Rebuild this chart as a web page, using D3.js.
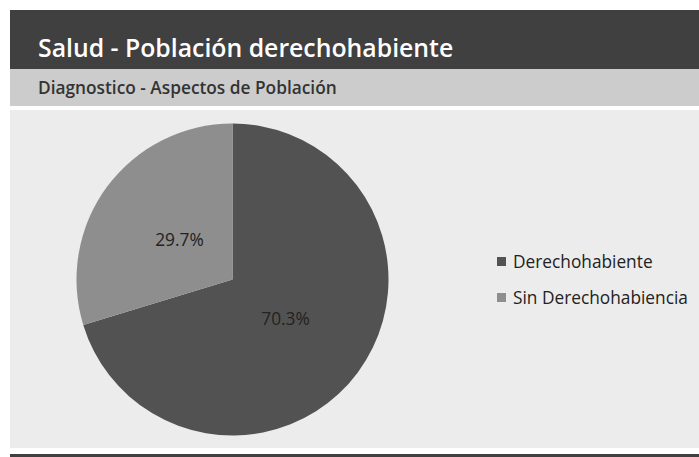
<!DOCTYPE html>
<meta charset="utf-8">
<style>
  body { margin: 0; background: #fff; }
  svg { display: block; font-family: "Open Sans", sans-serif; }
</style>
<body>
<svg width="699" height="457"></svg>
<script src="https://d3js.org/d3.v7.min.js"></script>
<script>

var title = "Salud - Población derechohabiente",
    subtitle = "Diagnostico - Aspectos de Población";

var categories = ["Derechohabiente", "Sin Derechohabiencia"];
var values = [70.3, 29.7];
var labels = ["70.3%", "29.7%"];

var svg = d3.select("svg"),
    W = +svg.attr("width"),
    H = +svg.attr("height");

// header bands
svg.append("rect").attr("x", 10).attr("y", 10).attr("width", W - 10).attr("height", 59).attr("fill", "#404040");
svg.append("rect").attr("x", 10).attr("y", 69).attr("width", W - 10).attr("height", 37).attr("fill", "#cccccc");
svg.append("rect").attr("x", 10).attr("y", 110).attr("width", W - 10).attr("height", 338).attr("fill", "#ececec");
svg.append("rect").attr("x", 10).attr("y", 454).attr("width", W - 10).attr("height", 3).attr("fill", "#404040");

svg.append("text")
    .attr("x", 38).attr("y", 57)
    .attr("fill", "#fff")
    .attr("font-size", 24.8).attr("font-weight", "600")
    .text(title);

svg.append("text")
    .attr("x", 38).attr("y", 94)
    .attr("fill", "#333")
    .attr("font-size", 17.3).attr("font-weight", "600")
    .text(subtitle);

var color = d3.scaleOrdinal().domain(categories).range(["#525252", "#8e8e8e"]);

var data = categories.map(function(c, i) { return {name: c, value: values[i], label: labels[i]}; });

var r = 156,
    g = svg.append("g").attr("transform", "translate(232.5,279.5)");

var pie = d3.pie().sort(null).value(function(d) { return d.value; });
var arc = d3.arc().innerRadius(0).outerRadius(r);
var labelArc = d3.arc().innerRadius(66).outerRadius(66);

g.selectAll("path")
    .data(pie(data))
  .enter().append("path")
    .attr("d", arc)
    .attr("fill", function(d) { return color(d.data.name); });

g.selectAll("text")
    .data(pie(data))
  .enter().append("text")
    .attr("transform", function(d) { return "translate(" + labelArc.centroid(d) + ")"; })
    .attr("text-anchor", "middle")
    .attr("dy", "0.35em")
    .attr("font-size", 17.3)
    .attr("fill", "#222")
    .text(function(d) { return d.data.label; });

// legend
var legend = svg.append("g").attr("transform", "translate(497,261.5)");
var item = legend.selectAll("g")
    .data(categories)
  .enter().append("g")
    .attr("transform", function(d, i) { return "translate(0," + i * 36 + ")"; });

item.append("rect")
    .attr("x", 0).attr("y", -4.5)
    .attr("width", 9).attr("height", 9)
    .attr("fill", function(d) { return color(d); });

item.append("text")
    .attr("x", 16)
    .attr("dy", "0.35em")
    .attr("font-size", 17.3)
    .attr("fill", "#222")
    .text(function(d) { return d; });

</script>
</body>
